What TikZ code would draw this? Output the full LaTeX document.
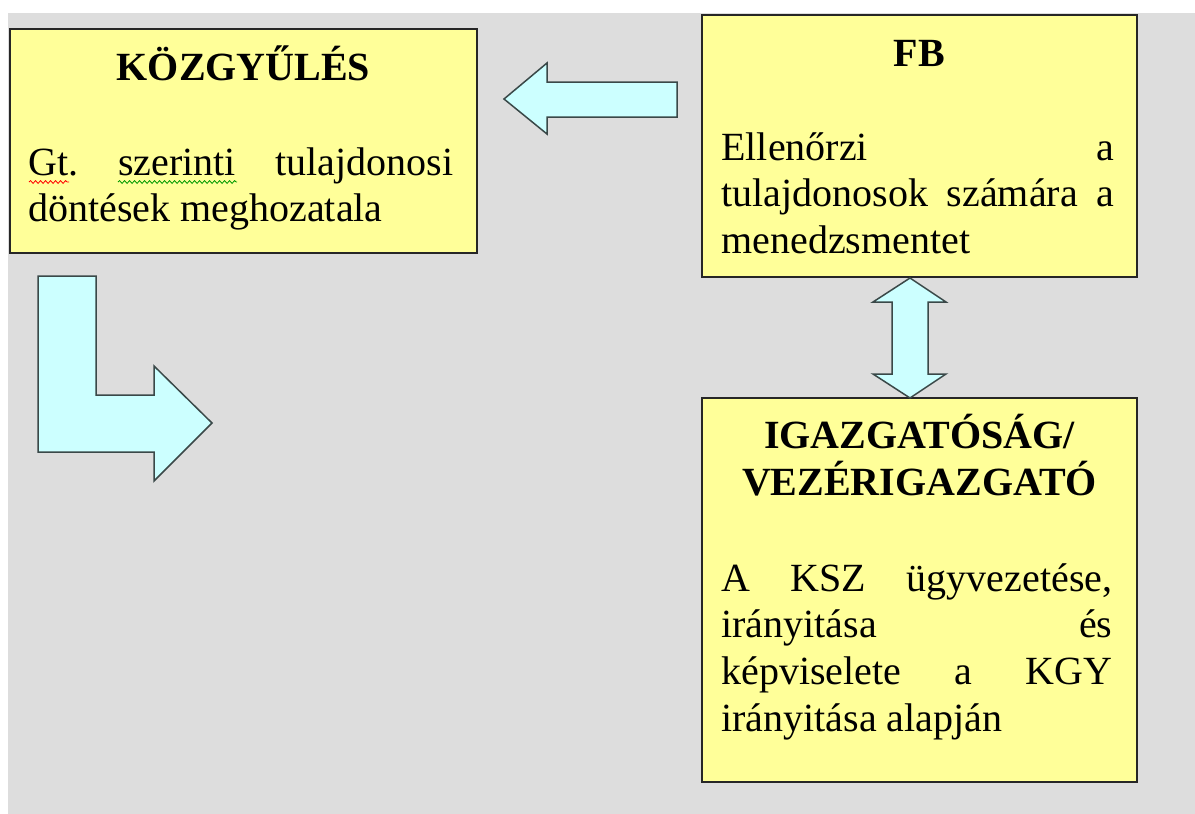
\documentclass[tikz,border=0pt]{standalone}
\usepackage{fontspec}
\setmainfont{Liberation Serif}
\usetikzlibrary{positioning,snakes}

\definecolor{hatter}{HTML}{DDDDDD}
\definecolor{sarga}{HTML}{FFFF99}
\definecolor{kek}{HTML}{CCFFFF}
\definecolor{keret}{HTML}{3A4848}

\tikzset{
	doboz/.style={draw=black!85, line width=1pt, fill=sarga, inner sep=0pt, minimum width=217.5pt},
	cim/.style={font=\fontsize{20}{23.5}\selectfont\bfseries, align=center, inner sep=0pt},
	szoveg/.style={font=\fontsize{20}{23.4}\selectfont\frenchspacing, align=justify, inner sep=0pt},
	nyil/.style={draw=keret, line width=0.75pt, fill=kek, line join=miter},
	hullam/.style={snake=snake, segment amplitude=0.7pt, segment length=2.5pt, line width=0.4pt}
}

\begin{document}
\begin{tikzpicture}[x=0.5pt, y=-0.5pt]
	\fill [hatter] (8,13) rectangle (1195,814);
	\useasboundingbox (0,0) rectangle (1195,814);

	\node [doboz, minimum width=233.5pt, minimum height=112pt] (kgy) at (243.5,141) {};
	\node [doboz, minimum height=131pt] (fb) at (919.5,146) {};
	\node [doboz, minimum height=192pt] (igaz) at (919.5,590) {};

	\node [cim, anchor=base] (kgycim) at ([yshift=-26pt]kgy.north) {KÖZGYŰLÉS};
	\node [cim, anchor=base] (fbcim) at ([yshift=-26pt]fb.north) {FB};
	\node [cim, anchor=base] (igazcim) at ([yshift=-49pt]igaz.north) {IGAZGATÓSÁG/\\VEZÉRIGAZGATÓ};

	\node [szoveg, text width=212.5pt, anchor=base west] (kgyszoveg) at ([xshift=9.5pt, yshift=-73.5pt]kgy.north west)
		{Gt. szerinti tulajdonosi\linebreak döntések meghozatala};
	\node [szoveg, text width=196.5pt, anchor=base west] (fbszoveg) at ([xshift=10pt, yshift=-73pt]fb.north west)
		{Ellenőrzi a\linebreak tulajdonosok számára a\linebreak menedzsmentet};
	\node [szoveg, text width=195.5pt, anchor=base west] (igazszoveg) at ([xshift=10pt, yshift=-97pt]igaz.north west)
		{A KSZ ügyvezetése,\linebreak irányitása és\linebreak képviselete a KGY\linebreak irányitása alapján};

	\draw [hullam, red] (29,182) -- (69,182);
	\draw [hullam, green!60!black] (118,182) -- (237,182);

	\draw [nyil] (677,82) -- (547,82) -- (547,63) -- (504,99) -- (547,134) -- (547,117) -- (677,117) -- cycle;
	\draw [nyil] (910,278) -- (946,302) -- (928,302) -- (928,374) -- (946,374) -- (910,398)
		-- (873,374) -- (892,374) -- (892,302) -- (873,302) -- cycle;
	\draw [nyil] (38,276) -- (96,276) -- (96,395) -- (154,395) -- (154,366) -- (212,423)
		-- (154,481) -- (154,452) -- (38,452) -- cycle;
\end{tikzpicture}
\end{document}
